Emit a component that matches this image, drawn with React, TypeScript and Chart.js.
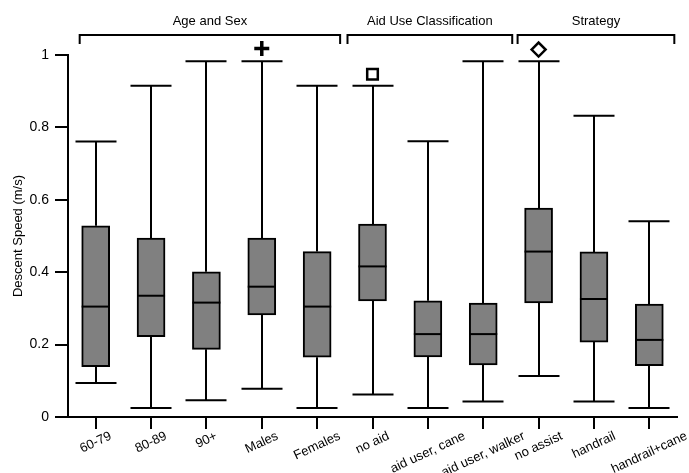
import React, { useEffect, useRef } from 'react';
import { Chart, registerables } from 'chart.js';

Chart.register(...registerables);

// ---- data ----
const categories = [
  '60-79', '80-89', '90+', 'Males', 'Females',
  'no aid', 'aid user, cane', 'aid user, walker',
  'no assist', 'handrail', 'handrail+cane',
];
const whiskerLow = [0.094, 0.025, 0.046, 0.078, 0.025, 0.062, 0.025, 0.043, 0.113, 0.043, 0.025];
const quartile1 = [0.139, 0.222, 0.187, 0.282, 0.165, 0.321, 0.166, 0.144, 0.315, 0.207, 0.142];
const medians = [0.305, 0.335, 0.316, 0.360, 0.305, 0.416, 0.229, 0.229, 0.457, 0.326, 0.213];
const quartile3 = [0.528, 0.494, 0.401, 0.494, 0.457, 0.533, 0.321, 0.315, 0.577, 0.456, 0.312];
const whiskerHigh = [0.761, 0.915, 0.983, 0.983, 0.915, 0.915, 0.762, 0.983, 0.983, 0.832, 0.541];

const markerCategories = ['Males', 'no aid', 'no assist'];
const markerValues = [1.018, 0.947, 1.015];

const groupLabels = ['Age and Sex', 'Aid Use Classification', 'Strategy'];
const groupFirst = ['60-79', 'no aid', 'no assist'];
const groupLast = ['Females', 'aid user, walker', 'handrail+cane'];

const yTicks = [0, 0.2, 0.4, 0.6, 0.8, 1];
const yTitle = 'Descent Speed (m/s)';

// ---- styles (not data) ----
const FONT = "'Liberation Sans', Arial, Helvetica, sans-serif";
const markerStyle = ['cross', 'rect', 'rectRot'];
const markerRadius = [7.5, 7.5, 7];
const markerBorder = [3.5, 2.5, 2.5];
const groupPadLeft = [16, 25, 21];
const groupPadRight = [23, 29, 25];

const boxPlugin = {
  id: 'boxExtras',
  beforeDatasetsDraw(chart: any) {
    const { ctx, scales } = chart;
    const xs = scales.x, ys = scales.y;
    ctx.save();
    ctx.strokeStyle = '#000';
    ctx.lineWidth = 2;
    categories.forEach((_, i) => {
      const x = Math.round(xs.getPixelForValue(i));
      const yLo = ys.getPixelForValue(whiskerLow[i]);
      const yQ1 = ys.getPixelForValue(quartile1[i]);
      const yQ3 = ys.getPixelForValue(quartile3[i]);
      const yHi = ys.getPixelForValue(whiskerHigh[i]);
      ctx.beginPath();
      ctx.moveTo(x, yQ1); ctx.lineTo(x, yLo);
      ctx.moveTo(x, yQ3); ctx.lineTo(x, yHi);
      ctx.moveTo(x - 20.5, yLo); ctx.lineTo(x + 20.5, yLo);
      ctx.moveTo(x - 20.5, yHi); ctx.lineTo(x + 20.5, yHi);
      ctx.stroke();
    });
    ctx.restore();
  },
  afterDatasetsDraw(chart: any) {
    const { ctx, scales } = chart;
    const xs = scales.x, ys = scales.y;
    ctx.save();
    ctx.strokeStyle = '#000';
    ctx.lineWidth = 2;
    categories.forEach((_, i) => {
      const x = xs.getPixelForValue(i);
      const y = ys.getPixelForValue(medians[i]);
      ctx.beginPath();
      ctx.moveTo(x - 14, y); ctx.lineTo(x + 14, y);
      ctx.stroke();
    });
    ctx.restore();
  },
  afterDraw(chart: any) {
    const { ctx, scales } = chart;
    const xs = scales.x, ys = scales.y;
    ctx.save();
    ctx.fillStyle = '#000';
    ctx.strokeStyle = '#000';
    // x tick labels, rotated, centred on tick
    ctx.font = `13px ${FONT}`;
    const ang = (25 * Math.PI) / 180;
    categories.forEach((c, i) => {
      const x = xs.getPixelForValue(i);
      const w = ctx.measureText(c).width;
      const h = 12;
      const cy = 430 + (w * Math.sin(ang) + h * Math.cos(ang)) / 2;
      ctx.save();
      ctx.translate(x, cy);
      ctx.rotate(-ang);
      ctx.textAlign = 'center';
      ctx.textBaseline = 'middle';
      ctx.fillText(c, 0, 0);
      ctx.restore();
    });
    // group brackets
    ctx.lineWidth = 2;
    groupLabels.forEach((g, k) => {
      const x0 = xs.getPixelForValue(categories.indexOf(groupFirst[k])) - groupPadLeft[k];
      const x1 = xs.getPixelForValue(categories.indexOf(groupLast[k])) + groupPadRight[k];
      ctx.beginPath();
      ctx.moveTo(x0, 44); ctx.lineTo(x0, 35); ctx.lineTo(x1, 35); ctx.lineTo(x1, 44);
      ctx.stroke();
      ctx.textAlign = 'center';
      ctx.textBaseline = 'middle';
      ctx.fillText(g, (x0 + x1) / 2, 21);
    });
    // y title
    ctx.save();
    ctx.translate(18, (ys.top + ys.bottom) / 2);
    ctx.rotate(-Math.PI / 2);
    ctx.textAlign = 'center';
    ctx.textBaseline = 'middle';
    ctx.fillText(yTitle, 0, 0);
    ctx.restore();
    ctx.restore();
  },
};

export default function App() {
  const ref = useRef<HTMLCanvasElement | null>(null);
  useEffect(() => {
    document.body.style.margin = '0';
    const canvas = ref.current;
    if (!canvas) return;
    const markerData = categories.map((c) => {
      const k = markerCategories.indexOf(c);
      return k >= 0 ? markerValues[k] : null;
    });
    const mIdx = (ctx: any) => markerCategories.indexOf(categories[ctx.dataIndex]);
    const chart = new Chart(canvas, {
      type: 'bar',
      data: {
        labels: categories,
        datasets: [
          {
            type: 'bar',
            data: categories.map((_, i) => [quartile1[i], quartile3[i]]),
            backgroundColor: '#808080',
            borderColor: '#000',
            borderWidth: 2,
            borderSkipped: false,
            barThickness: 28,
          } as any,
          {
            type: 'line',
            data: markerData,
            showLine: false,
            clip: false,
            pointStyle: (ctx: any) => markerStyle[Math.max(0, mIdx(ctx))],
            pointRadius: (ctx: any) => markerRadius[Math.max(0, mIdx(ctx))],
            pointBorderWidth: (ctx: any) => markerBorder[Math.max(0, mIdx(ctx))],
            pointBackgroundColor: '#fff',
            pointBorderColor: '#000',
          } as any,
        ],
      },
      options: {
        animation: false,
        responsive: false,
        events: [],
        layout: { padding: { top: 55, right: 12, left: 0, bottom: 0 } },
        plugins: { legend: { display: false }, tooltip: { enabled: false } },
        scales: {
          x: {
            offset: true,
            grid: { drawOnChartArea: false, offset: false, tickLength: 12, lineWidth: 2, color: '#000' },
            border: { display: true, color: '#000', width: 2 },
            ticks: { display: false },
            afterFit: (s: any) => { s.height = 56; },
          },
          y: {
            min: 0,
            max: 1,
            afterBuildTicks: (s: any) => { s.ticks = yTicks.map((v) => ({ value: v })); },
            grid: { drawOnChartArea: false, tickLength: 13, lineWidth: 2, color: '#000' },
            border: { display: true, color: '#000', width: 2 },
            ticks: {
              color: '#000',
              padding: 6,
              font: { family: FONT, size: 14 },
              callback: (v: any) => String(Number(v)),
            },
            afterFit: (s: any) => { s.width = 68; },
          },
        },
      },
      plugins: [boxPlugin],
    } as any);
    return () => chart.destroy();
  }, []);
  return <canvas ref={ref} width={689} height={473} style={{ display: 'block' }} />;
}
